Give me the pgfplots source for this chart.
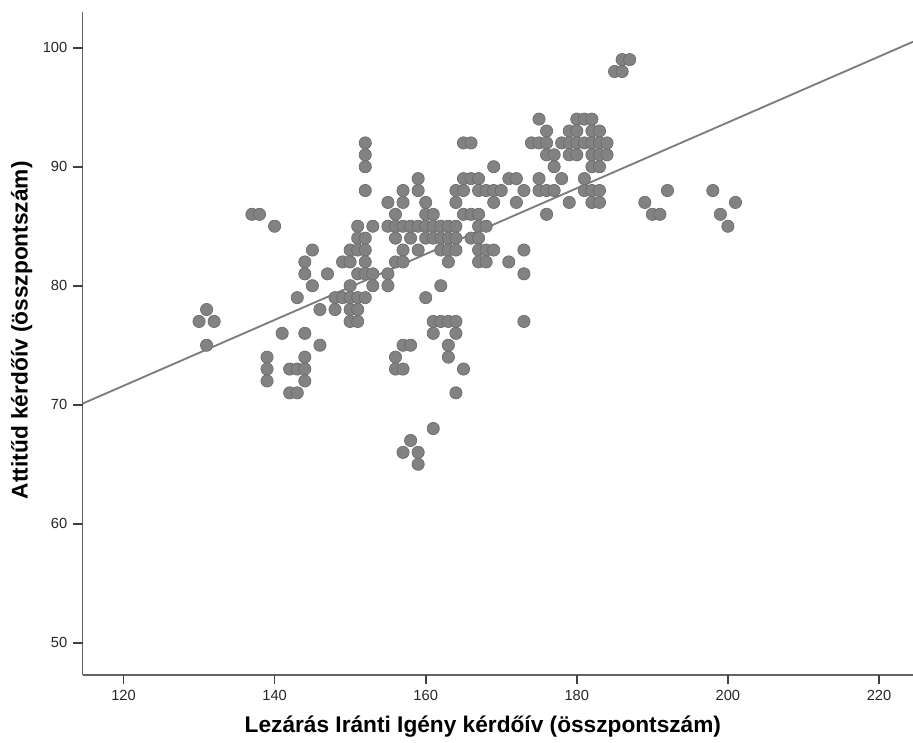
\documentclass[border=0pt]{standalone}
\usepackage{fontspec}
\setmainfont{Liberation Sans}
\usepackage{pgfplots}
\usetikzlibrary{calc}
\pgfplotsset{compat=1.18}
\definecolor{dotfill}{RGB}{130,130,130}
\definecolor{dotedge}{RGB}{108,108,108}
\definecolor{axgray}{RGB}{100,100,100}
\definecolor{linegray}{RGB}{125,125,125}
\begin{document}
\begin{tikzpicture}
\begin{axis}[
  scale only axis,
  width=622.5pt, height=497pt,
  xmin=114.6, xmax=224.5, ymin=47.3, ymax=103,
  axis x line=bottom, axis y line=left,
  axis line style={axgray, line width=0.9pt, -},
  xtick={120,140,...,220}, ytick={50,60,...,100},
  tick align=outside, major tick length=7pt,
  major tick style={draw=black!75, line width=1.3pt},
  tick label style={font=\fontsize{11}{13}\selectfont, text=black!85},
  /pgf/number format/assume math mode=true,
  xticklabel style={yshift=-1pt},
  yticklabel style={xshift=-1pt},
  xlabel={Lezárás Iránti Igény kérdőív (összpontszám)},
  ylabel={Attitűd kérdőív (összpontszám)},
  label style={font=\fontsize{17}{19}\selectfont\bfseries},
  xlabel style={at={(axis description cs:0.482,0)}, anchor=center, yshift=-39pt},
  ylabel style={at={(axis description cs:-0.0735,0.52)}, anchor=center},
  clip=false,
]
\addplot[only marks, mark=*, mark size=4.6pt, mark options={fill=dotfill, draw=dotedge, line width=0.5pt}] table {
x y
130 77
131 78
131 75
132 77
137 86
138 86
139 74
139 73
139 72
140 85
141 76
142 73
142 71
143 79
143 73
143 71
144 82
144 81
144 76
144 74
144 73
144 72
145 83
145 80
146 78
146 75
147 81
148 79
148 78
149 82
149 79
150 83
150 82
150 80
150 79
150 78
150 77
151 85
151 84
151 83
151 81
151 79
151 78
151 77
152 92
152 91
152 90
152 88
152 84
152 83
152 82
152 81
152 79
153 85
153 81
153 80
155 87
155 85
155 81
155 80
156 86
156 85
156 84
156 82
156 74
156 73
157 88
157 87
157 85
157 83
157 82
157 75
157 73
157 66
158 85
158 84
158 75
158 67
159 89
159 88
159 85
159 83
159 66
159 65
160 87
160 86
160 85
160 84
160 79
161 86
161 85
161 84
161 77
161 76
161 68
162 85
162 84
162 83
162 80
162 77
163 85
163 84
163 83
163 82
163 77
163 75
163 74
164 88
164 87
164 85
164 84
164 83
164 77
164 76
164 71
165 92
165 89
165 88
165 86
165 73
166 92
166 89
166 86
166 84
167 89
167 88
167 86
167 85
167 84
167 83
167 82
168 88
168 85
168 83
168 82
169 90
169 88
169 87
169 83
170 88
171 89
171 82
172 89
172 87
173 88
173 83
173 81
173 77
174 92
175 94
175 92
175 89
175 88
176 93
176 92
176 91
176 88
176 86
177 91
177 90
177 88
178 92
178 89
179 93
179 92
179 91
179 87
180 94
180 93
180 92
180 91
181 94
181 92
181 89
181 88
182 94
182 93
182 92
182 91
182 90
182 88
182 87
183 93
183 92
183 91
183 90
183 88
183 87
184 92
184 91
185 98
186 99
186 98
187 99
189 87
190 86
191 86
192 88
198 88
199 86
200 85
201 87
};
\addplot[linegray, line width=1.4pt] coordinates {(114.6,70.1) (224.5,100.5)};
\end{axis}
\foreach \i in {0,...,5}{
  \draw[black!75, line width=1.3pt] ($(current axis.south west)+({(120+20*\i-114.6)/(224.5-114.6)*622.5pt},0pt)$) -- ++(0pt,-7pt);
  \draw[black!75, line width=1.3pt] ($(current axis.south west)+(0pt,{(50+10*\i-47.3)/(103-47.3)*497pt})$) -- ++(-7pt,0pt);
}
\pgfresetboundingbox
\path[use as bounding box] ([xshift=-62pt,yshift=-50.5pt]current axis.south west) rectangle ([yshift=9pt]current axis.north east);
\end{tikzpicture}
\end{document}
